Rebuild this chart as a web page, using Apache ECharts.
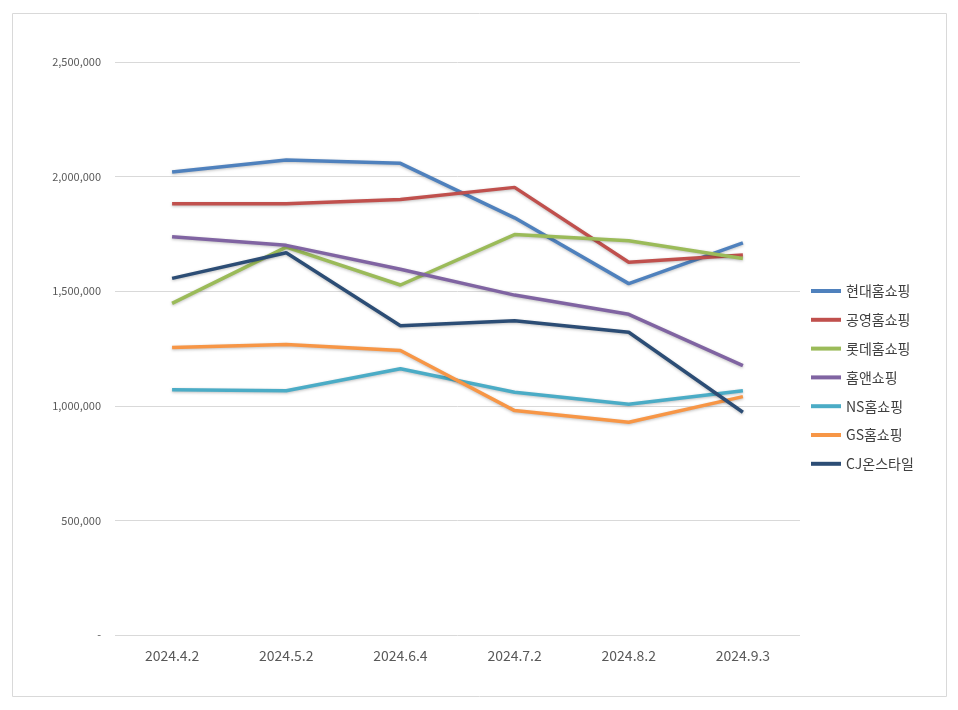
<!DOCTYPE html>
<html>
<head>
<meta charset="utf-8">
<script src="https://cdn.jsdelivr.net/npm/echarts@6/dist/echarts.min.js"></script>
<style>
  html, body { margin: 0; padding: 0; background: #fff; }
  #chart { width: 958px; height: 710px; }
</style>
</head>
<body>
<div id="chart"></div>
<script>
const dates = ["2024.4.2", "2024.5.2", "2024.6.4", "2024.7.2", "2024.8.2", "2024.9.3"];

const hyundai = [2020000, 2072000, 2058000, 1820000, 1533000, 1711000];
const gongyoung = [1882000, 1882000, 1900000, 1953000, 1626000, 1658000];
const lotte = [1447000, 1692000, 1527000, 1747000, 1720000, 1643000];
const homeand = [1738000, 1700000, 1596000, 1483000, 1399000, 1175000];
const ns = [1070000, 1066000, 1162000, 1059000, 1007000, 1066000];
const gs = [1254000, 1267000, 1241000, 979000, 928000, 1040000];
const cj = [1556000, 1668000, 1349000, 1371000, 1321000, 972000];

const seriesList = [
    { name: "현대홈쇼핑", data: hyundai, color: "#4f81bd" },
    { name: "공영홈쇼핑", data: gongyoung, color: "#c0504d" },
    { name: "롯데홈쇼핑", data: lotte, color: "#9bbb59" },
    { name: "홈앤쇼핑", data: homeand, color: "#8064a2" },
    { name: "NS홈쇼핑", data: ns, color: "#4bacc6" },
    { name: "GS홈쇼핑", data: gs, color: "#f79646" },
    { name: "CJ온스타일", data: cj, color: "#2c4d75" }
];

const font = "'Noto Sans CJK KR', 'Noto Sans', sans-serif";

const chart = echarts.init(document.getElementById("chart"));

chart.setOption({
    animation: false,
    textStyle: { fontFamily: font },
    graphic: [{
        type: "rect",
        shape: { x: 12.5, y: 13.5, width: 934, height: 683 },
        style: { fill: "none", stroke: "#d9d9d9", lineWidth: 1 }
    }],
    legend: {
        orient: "vertical",
        left: 806,
        top: 279,
        itemWidth: 30,
        itemHeight: 14,
        itemGap: 14.8,
        data: seriesList.map(({name}) => ({ name, icon: "path://M0,0 L30,0 L30,4 L0,4 Z" })),
        textStyle: { fontSize: 14, color: "#404040", fontFamily: font }
    },
    grid: { left: 115, right: 158, top: 62, bottom: 75 },
    xAxis: {
        type: "category",
        data: dates,
        boundaryGap: true,
        axisLine: { show: false },
        axisTick: { show: false },
        axisLabel: { fontSize: 14, color: "#595959", margin: 14 }
    },
    yAxis: {
        type: "value",
        min: 0,
        max: 2500000,
        interval: 500000,
        axisLine: { show: false },
        axisTick: { show: false },
        splitLine: { lineStyle: { color: "#d9d9d9", width: 1 } },
        axisLabel: {
            fontSize: 11,
            color: "#595959",
            margin: 14,
            formatter: (v) => v === 0 ? "-" : v.toLocaleString("en-US")
        }
    },
    series: seriesList.map(s => ({
        name: s.name,
        type: "line",
        data: s.data,
        symbol: "none",
        color: s.color,
        lineStyle: {
            width: 3.5,
            color: s.color,
            shadowColor: "rgba(0,0,0,0.25)",
            shadowBlur: 3,
            shadowOffsetY: 1
        }
    }))
});
</script>
</body>
</html>
